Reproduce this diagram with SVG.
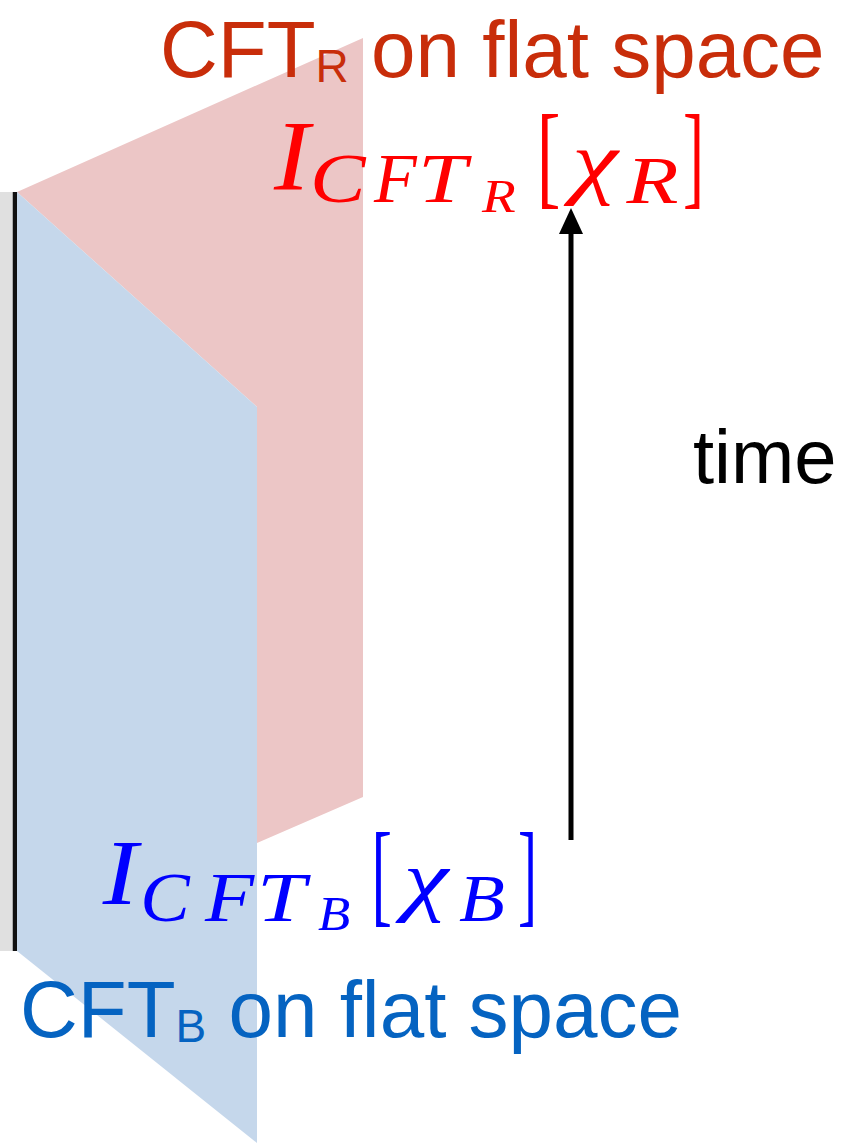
<svg xmlns="http://www.w3.org/2000/svg" width="848" height="1147" viewBox="0 0 848 1147">
  <style>
    .sans { font-family: "Liberation Sans", Arial, sans-serif; }
    .math { font-family: "Liberation Serif", "Times New Roman", serif; font-style: italic; }
    .br { font-family: "Liberation Serif", "Times New Roman", serif; font-style: normal; }
    .red { fill: #ff0000; }
    .blue { fill: #0000ff; }
  </style>
  <g id="boundary">
    <rect x="0" y="192" width="14" height="759" fill="#e0e0e0"/>
    <line x1="15" y1="192" x2="15" y2="951" stroke="#111" stroke-width="4.5"/>
  </g>
  <g id="sheet-red">
    <polygon points="17,192 363,38 363,797 257,843 257,407" fill="#ecc6c6"/>
  </g>
  <g id="sheet-blue">
    <polygon points="17,192 257,407 257,1143 17,951" fill="#c5d7eb"/>
  </g>
  <g id="connectors">
    <line x1="571" y1="840" x2="571" y2="232" stroke="#000" stroke-width="5"/>
    <polygon points="571,208 559,234 583,234" fill="#000"/>
  </g>
  <g id="label-cftr">
    <text class="sans" x="160" y="77" font-size="80" fill="#c82d0a">CFT<tspan font-size="46" dy="5">R</tspan><tspan dy="-5"> on flat space</tspan></text>
  </g>
  <g id="label-cftb">
    <text class="sans" x="20" y="1037" font-size="80" fill="#0563c1">CFT<tspan font-size="46" dy="5">B</tspan><tspan dy="-5"> on flat space</tspan></text>
  </g>
  <g id="math-red" class="red">
    <text class="math" transform="translate(274,189) scale(1.07,1)" font-size="100">I</text>
    <text class="math" transform="translate(310,202) scale(1.19,1)" font-size="70">C</text>
    <text class="math" transform="translate(374,202) scale(1.0,1)" font-size="70">F</text>
    <text class="math" transform="translate(418,202) scale(1.25,1)" font-size="70">T</text>
    <text class="math" transform="translate(482,212) scale(1.2,1)" font-size="46">R</text>
    <text class="br" transform="translate(536.7,194) scale(0.62,1)" font-size="115">[</text>
    <text class="math" transform="translate(572,188) scale(1.27,1)" font-size="82">χ</text>
    <text class="math" transform="translate(626.5,203) scale(1.27,1)" font-size="67">R</text>
    <text class="br" transform="translate(683,194) scale(0.55,1)" font-size="115">]</text>
  </g>
  <g id="math-blue" class="blue">
    <text class="math" transform="translate(102.8,904) scale(1.13,1)" font-size="93">I</text>
    <text class="math" transform="translate(140.2,921) scale(1.06,1)" font-size="70">C</text>
    <text class="math" transform="translate(205,921) scale(1.15,1)" font-size="70">F</text>
    <text class="math" transform="translate(257,921) scale(1.25,1)" font-size="70">T</text>
    <text class="math" transform="translate(318,930) scale(1.1,1)" font-size="48">B</text>
    <text class="br" transform="translate(371.6,912) scale(0.54,1)" font-size="114">[</text>
    <text class="math" transform="translate(403.6,906) scale(1.27,1)" font-size="80">χ</text>
    <text class="math" transform="translate(458.9,921) scale(1.12,1)" font-size="67">B</text>
    <text class="br" transform="translate(518,912) scale(0.5,1)" font-size="114">]</text>
  </g>
  <g id="label-time">
    <text class="sans" x="693" y="483" font-size="76" fill="#000">time</text>
  </g>
</svg>
